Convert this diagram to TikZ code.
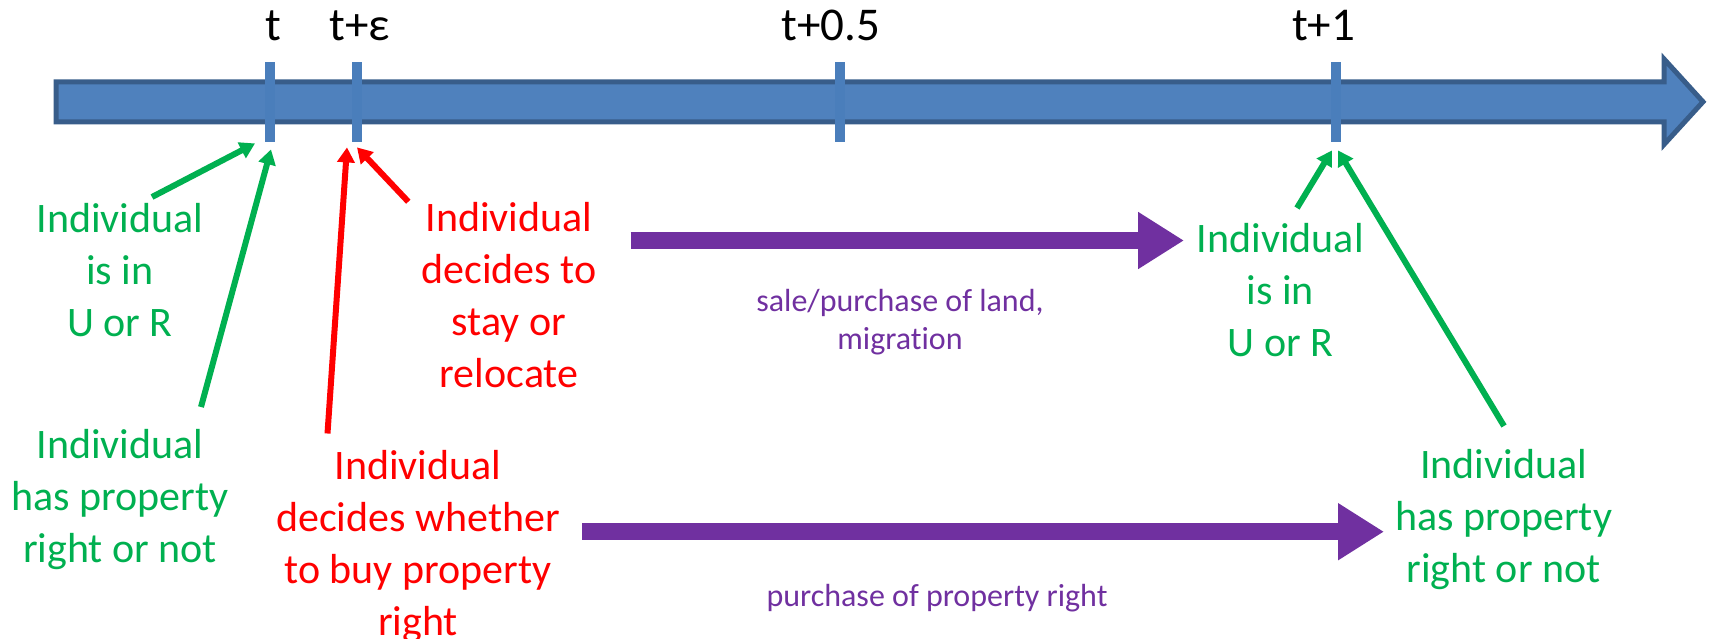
\documentclass[tikz,border=0pt]{standalone}
\usepackage{fontspec}
\setmainfont[Ligatures=NoCommon]{Carlito}
\usetikzlibrary{arrows.meta}

\definecolor{barblue}{HTML}{4F81BD}
\definecolor{barline}{HTML}{385D8A}
\definecolor{tickblue}{HTML}{4A7EBB}
\definecolor{stategreen}{HTML}{00B050}
\definecolor{choicered}{HTML}{FF0000}
\definecolor{flowpurple}{HTML}{7030A0}

\tikzset{
  timetick/.style={rectangle,fill=tickblue,inner sep=0,minimum width=5pt,minimum height=40pt},
  timelabel/.style={anchor=base,inner sep=0,font=\fontsize{23.5}{28}\selectfont},
  statearrow/.style={stategreen,line width=3pt,-{Triangle[length=7.5pt,width=8.5pt]}},
  choicearrow/.style={choicered,line width=3pt,-{Triangle[length=7.5pt,width=8.5pt]}},
  flowarrow/.style={flowpurple,line width=8.75pt,-{Triangle[length=23pt,width=27pt]}}
}

\begin{document}
\begin{tikzpicture}[x=0.5pt,y=-0.5pt]
  \useasboundingbox (0,0) rectangle (1710,638);

  % the time line
  \filldraw[fill=barblue,draw=barline,line width=2.5pt,line join=miter]
    (56,81.8) -- (1664,81.8) -- (1664,59) -- (1703,101.8)
    -- (1664,144.5) -- (1664,121.8) -- (56,121.8) -- cycle;

  \node[timetick] (tT)    at (270,102)  {};
  \node[timetick] (tEps)  at (357,102)  {};
  \node[timetick] (tHalf) at (840,102)  {};
  \node[timetick] (tOne)  at (1336,102) {};

  \node[timelabel] (lT)    at (273.6,40)  {t};
  \node[timelabel] (lEps)  at (360,40)    {t+ε};
  \node[timelabel] (lHalf) at (831,40)    {t+0.5};
  \node[timelabel] (lOne)  at (1323.7,40) {t+1};

  \begin{scope}[every node/.style={align=center,inner sep=0,font=\fontsize{21}{26}\selectfont}]
    \node[text=stategreen] (isInL)  at (120,270.5)  {Individual\\is in\\U or R};
    \node[text=stategreen] (hasL)   at (120,500)    {Individual\\has property\\right or not};
    \node[text=choicered]  (stay)   at (509,294.7)  {Individual\\decides to\\stay or\\relocate};
    \node[text=choicered]  (buy)    at (418,546.4)  {Individual\\decides whether\\to buy property\\right};
    \node[text=stategreen] (isInR)  at (1280.4,289.6) {Individual\\is in\\U or R};
    \node[text=stategreen] (hasR)   at (1503.6,519.8) {Individual\\has property\\right or not};
  \end{scope}
  \begin{scope}[every node/.style={align=center,inner sep=0,text=flowpurple,font=\fontsize{16}{19.2}\selectfont}]
    \node (land)  at (900,322.4) {sale/purchase of land,\\migration};
    \node (right) at (937,598.3) {purchase of property right};
  \end{scope}

  % where the arrows start
  \coordinate (isInLtail) at (152,197);
  \coordinate (hasLtail)  at (201,407);
  \coordinate (buytail)   at (327.5,433.5);
  \coordinate (staytail)  at (408.3,201.7);
  \coordinate (isInRtail) at (1297,208);
  \coordinate (hasRtail)  at (1504,426);
  \coordinate (landtail)  at (630.6,240.5);
  \coordinate (landhead)  at (1184,240.5);
  \coordinate (righttail) at (582.4,531.7);
  \coordinate (righthead) at (1384,531.7);

  \draw[statearrow]  (isInLtail) -- ([shift={(-15,1)}]tT.south);
  \draw[statearrow]  (hasLtail)  -- ([shift={(1,7)}]tT.south);
  \draw[choicearrow] (buytail)   -- ([shift={(-10,5)}]tEps.south);
  \draw[choicearrow] (staytail)  -- ([shift={(0,5)}]tEps.south);
  \draw[statearrow]  (isInRtail) -- ([shift={(-4,8)}]tOne.south);
  \draw[statearrow]  (hasRtail)  -- ([shift={(2,8)}]tOne.south);

  \draw[flowarrow] (landtail)  -- (landhead);
  \draw[flowarrow] (righttail) -- (righthead);
\end{tikzpicture}
\end{document}
